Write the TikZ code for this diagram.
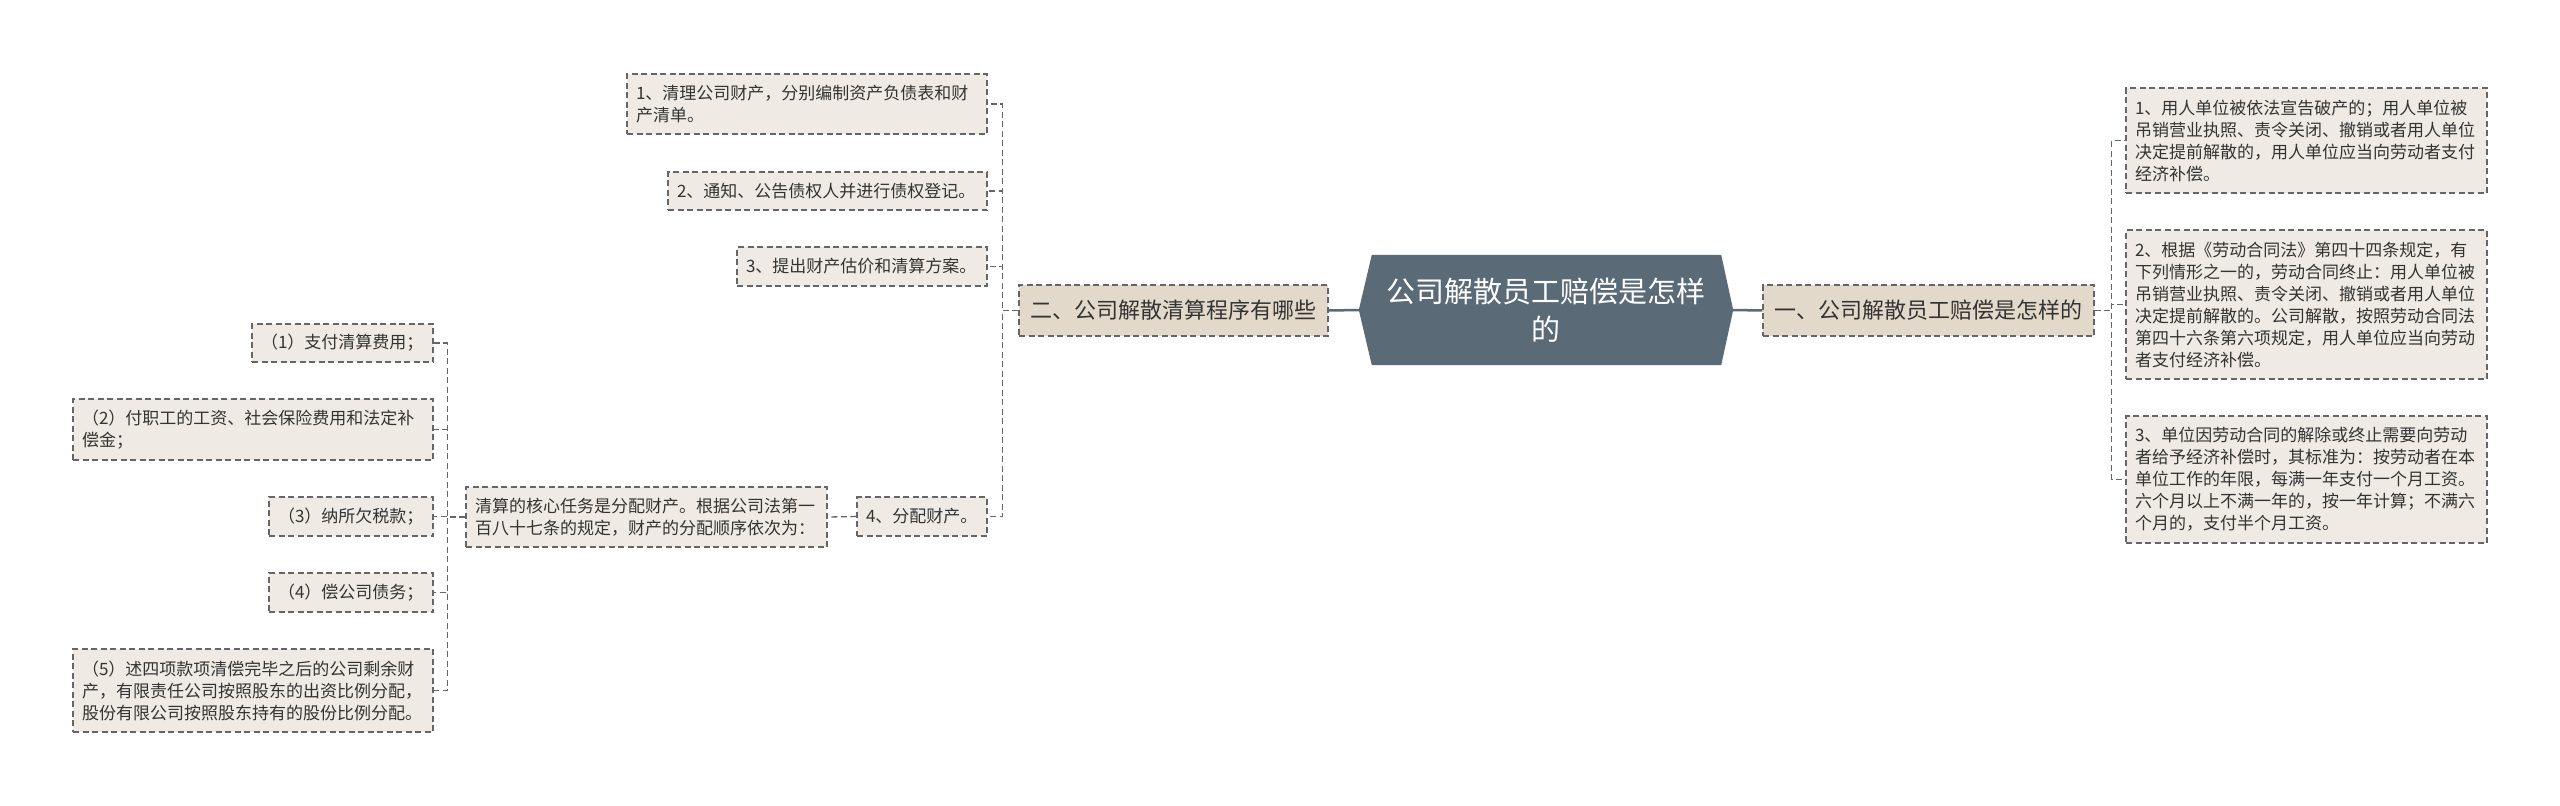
\documentclass[tikz,border=0pt]{standalone}
\usepackage{fontspec}
\setmainfont{Noto Sans CJK SC}
\usetikzlibrary{backgrounds}
\definecolor{slate}{HTML}{5A6A77}
\definecolor{lvfill}{HTML}{E2D9CA}
\definecolor{leaffill}{HTML}{EFEBE4}
\definecolor{bordc}{HTML}{666666}
\definecolor{txt}{HTML}{333333}
\tikzset{
 box/.style={draw=bordc, line width=1.4pt, dash pattern=on 6pt off 3.5pt, rectangle, inner xsep=9pt, inner ysep=0pt, text=txt},
 leaf/.style={box, fill=leaffill, font=\fontsize{17}{22}\selectfont, align=left},
 lvone/.style={box, fill=lvfill, font=\fontsize{22}{28}\selectfont, align=center},
 link/.style={draw=bordc, line width=1.3pt, dash pattern=on 6pt off 3.5pt},
 mainlink/.style={draw=slate, line width=2.5pt},
}
\begin{document}
\begin{tikzpicture}[x=1pt,y=-1pt]
\begin{scope}[on background layer]
\fill[white] (0,0) rectangle (2560,806);
\end{scope}
\useasboundingbox (0,0) rectangle (2560,806);

% root
\node[text=white, font=\fontsize{29}{38}\selectfont, align=center, minimum width=374pt, minimum height=110pt, inner sep=0pt] (root) at (1546,310) {公司解散员工赔偿是怎样\\的};
\begin{scope}[on background layer]
\fill[slate] (root.west) -- ([xshift=13pt]root.north west) -- ([xshift=-12pt]root.north east) -- (root.east) -- ([xshift=-12pt]root.south east) -- ([xshift=13pt]root.south west) -- cycle;
\end{scope}

% level one
\node[lvone, minimum width=331pt, minimum height=51pt] (one) at (1928.5,310.5) {一、公司解散员工赔偿是怎样的};
\node[lvone, minimum width=309pt, minimum height=51pt] (two) at (1173.5,310.5) {二、公司解散清算程序有哪些};

% right leaves
\node[leaf, minimum width=361pt, minimum height=105pt, text width=343pt] (r1) at (2306.5,140.5) {1、用人单位被依法宣告破产的；用人单位被\\吊销营业执照、责令关闭、撤销或者用人单位\\决定提前解散的，用人单位应当向劳动者支付\\经济补偿。};
\node[leaf, minimum width=361pt, minimum height=149pt, text width=343pt] (r2) at (2306.5,304.5) {2、根据《劳动合同法》第四十四条规定，有\\下列情形之一的，劳动合同终止：用人单位被\\吊销营业执照、责令关闭、撤销或者用人单位\\决定提前解散的。公司解散，按照劳动合同法\\第四十六条第六项规定，用人单位应当向劳动\\者支付经济补偿。};
\node[leaf, minimum width=361pt, minimum height=127pt, text width=343pt] (r3) at (2306.5,479.5) {3、单位因劳动合同的解除或终止需要向劳动\\者给予经济补偿时，其标准为：按劳动者在本\\单位工作的年限，每满一年支付一个月工资。\\六个月以上不满一年的，按一年计算；不满六\\个月的，支付半个月工资。};

% left leaves
\node[leaf, minimum width=360pt, minimum height=60pt, text width=342pt] (l1) at (807,104) {1、清理公司财产，分别编制资产负债表和财\\产清单。};
\node[leaf, minimum width=319pt, minimum height=38pt, text width=301pt] (l2) at (827.5,191) {2、通知、公告债权人并进行债权登记。};
\node[leaf, minimum width=250pt, minimum height=39pt, text width=232pt] (l3) at (862,266.5) {3、提出财产估价和清算方案。};
\node[leaf, minimum width=130pt, minimum height=39pt, text width=112pt] (l4) at (922,516.5) {4、分配财产。};
\node[leaf, minimum width=361pt, minimum height=60pt, text width=343pt] (core) at (646.5,517) {清算的核心任务是分配财产。根据公司法第一\\百八十七条的规定，财产的分配顺序依次为：};

\node[leaf, minimum width=181pt, minimum height=38pt, text width=163pt] (p1) at (342.5,343) {（1）支付清算费用；};
\node[leaf, minimum width=360pt, minimum height=61pt, text width=342pt] (p2) at (253,429.5) {（2）付职工的工资、社会保险费用和法定补\\偿金；};
\node[leaf, minimum width=164pt, minimum height=39pt, text width=146pt] (p3) at (351,516.5) {（3）纳所欠税款；};
\node[leaf, minimum width=164pt, minimum height=39pt, text width=146pt] (p4) at (351,592.5) {（4）偿公司债务；};
\node[leaf, minimum width=360pt, minimum height=83pt, text width=342pt] (p5) at (253,690.5) {（5）述四项款项清偿完毕之后的公司剩余财\\产，有限责任公司按照股东的出资比例分配，\\股份有限公司按照股东持有的股份比例分配。};

% connectors
\draw[mainlink] (root.west) -- (two.east);
\draw[mainlink] (root.east) -- (one.west);

\foreach \c in {r1,r2,r3}
  \draw[link] (one.east) -- ++(17,0) |- (\c.west);
\foreach \c in {l1,l2,l3,l4}
  \draw[link] (two.west) -- ++(-16,0) |- (\c.east);
\draw[link] (l4.west) -- (core.east);
\foreach \c in {p1,p2,p3,p4,p5}
  \draw[link] (core.west) -- ++(-18,0) |- (\c.east);
\end{tikzpicture}
\end{document}
